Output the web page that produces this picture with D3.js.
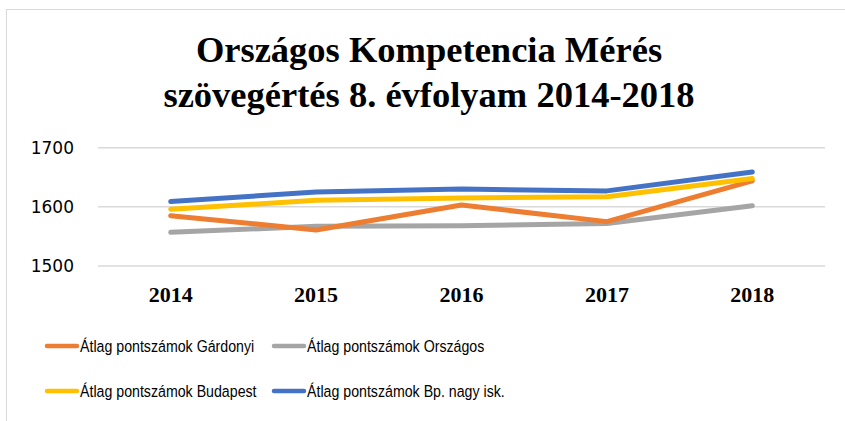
<!DOCTYPE html>
<html>
<head>
<meta charset="utf-8">
<script src="https://cdn.jsdelivr.net/npm/d3@7"></script>
<style>
  body { margin: 0; background: #fff; }
  svg { display: block; }
</style>
</head>
<body>
<div id="chart"></div>
<script>
// chart data
const years = ['2014', '2015', '2016', '2017', '2018'];
const gardonyi = [1585, 1561, 1603, 1575, 1644];
const orszagos = [1557, 1567, 1568, 1572, 1602];
const budapest = [1596, 1611, 1615, 1617, 1648];
const bpNagyIsk = [1609, 1625, 1630, 1627, 1659];
const yTicks = [1500, 1600, 1700];
const titleLines = ['Országos Kompetencia Mérés', 'szövegértés 8. évfolyam 2014-2018'];

const series = [
  { name: 'Átlag pontszámok Gárdonyi', values: gardonyi, color: '#ed7d31' },
  { name: 'Átlag pontszámok Országos', values: orszagos, color: '#a5a5a5' },
  { name: 'Átlag pontszámok Budapest', values: budapest, color: '#ffc000' },
  { name: 'Átlag pontszámok Bp. nagy isk.', values: bpNagyIsk, color: '#4472c4' }
];
// draw order: gray first, then orange, yellow, blue on top
const drawOrder = [1, 0, 2, 3];

const width = 845, height = 421;

const svg = d3.select('#chart')
  .append('svg')
  .attr('width', width)
  .attr('height', height);

// chart frame (cut off on the right and bottom like the reference)
svg.append('rect')
  .attr('x', 6.5).attr('y', 9.5)
  .attr('width', 860).attr('height', 440)
  .style('fill', '#fff')
  .style('stroke', '#d9d9d9')
  .style('stroke-width', '1px');

// title
svg.append('text')
  .attr('text-anchor', 'middle')
  .style('font-family', '"Liberation Serif", "Times New Roman", serif')
  .style('font-weight', 'bold')
  .style('font-size', '36.5px')
  .style('fill', '#000')
  .selectAll('tspan')
  .data(titleLines)
  .enter()
  .append('tspan')
  .attr('x', 429)
  .attr('y', (d, i) => 62 + i * 45)
  .text(d => d);

const x = d3.scaleBand().domain(years).range([98, 825]);
const y = d3.scaleLinear().domain([1500, 1700]).range([266, 147.7]);

// gridlines
svg.selectAll('.grid')
  .data(yTicks)
  .enter()
  .append('line')
  .attr('class', 'grid')
  .attr('x1', 98).attr('x2', 825)
  .attr('y1', d => y(d)).attr('y2', d => y(d))
  .style('stroke', '#d9d9d9')
  .style('stroke-width', '1.5px');

// y axis labels
const yAxis = svg.append('g')
  .attr('transform', 'translate(74,0)')
  .call(d3.axisLeft(y).tickValues(yTicks).tickSize(0).tickPadding(0).tickFormat(d3.format('d')));
yAxis.select('.domain').remove();
yAxis.selectAll('text')
  .style('font-family', '"DejaVu Sans", sans-serif')
  .style('font-size', '17px')
  .style('fill', '#000');

// x axis labels
const xAxis = svg.append('g')
  .attr('transform', 'translate(0,286)')
  .call(d3.axisBottom(x).tickSize(0).tickPadding(0));
xAxis.select('.domain').remove();
xAxis.selectAll('text')
  .attr('dy', '0.71em')
  .style('font-family', '"Liberation Serif", "Times New Roman", serif')
  .style('font-weight', 'bold')
  .style('font-size', '22px')
  .style('fill', '#000');

// lines
const line = d3.line()
  .x((d, i) => x(years[i]) + x.bandwidth() / 2)
  .y(d => y(d));

svg.selectAll('.series')
  .data(drawOrder.map(i => series[i]))
  .enter()
  .append('path')
  .attr('class', 'series')
  .attr('d', d => line(d.values))
  .style('fill', 'none')
  .style('stroke', d => d.color)
  .style('stroke-width', '5px')
  .style('stroke-linecap', 'round')
  .style('stroke-linejoin', 'round');

// legend
const legendPos = [[45, 346], [272, 346], [45, 391], [272, 391]];
const legend = svg.selectAll('.legend')
  .data(series)
  .enter()
  .append('g')
  .attr('class', 'legend')
  .attr('transform', (d, i) => `translate(${legendPos[i][0]},${legendPos[i][1]})`);

legend.append('line')
  .attr('x1', 2).attr('x2', 32)
  .attr('y1', 0).attr('y2', 0)
  .style('stroke', d => d.color)
  .style('stroke-width', '4.5px')
  .style('stroke-linecap', 'round');

// narrow the text a little to mimic the condensed legend font
legend.append('text')
  .attr('transform', 'translate(35,5.5) scale(0.86,1)')
  .text(d => d.name)
  .style('font-family', '"Liberation Sans", Arial, sans-serif')
  .style('font-size', '16.5px')
  .style('fill', '#000');
</script>
</body>
</html>
